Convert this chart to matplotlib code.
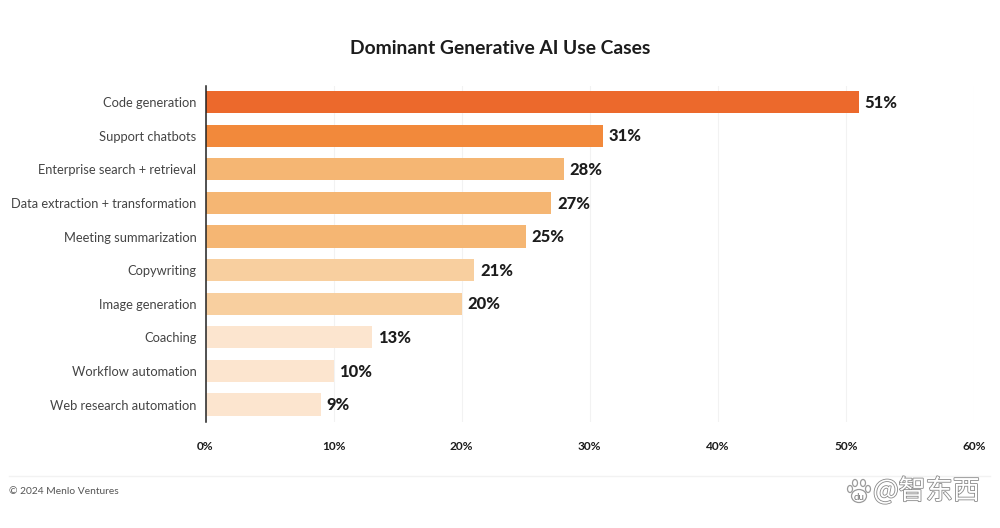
import matplotlib
matplotlib.use('Agg')
import matplotlib.pyplot as plt
import matplotlib.patheffects as pe
from matplotlib.patches import Ellipse

categorias = ['Code generation', 'Support chatbots', 'Enterprise search + retrieval',
              'Data extraction + transformation', 'Meeting summarization', 'Copywriting',
              'Image generation', 'Coaching', 'Workflow automation', 'Web research automation']
valores = [51, 31, 28, 27, 25, 21, 20, 13, 10, 9]
cores = ['#EC692C', '#F2893B', '#F5B673', '#F5B673', '#F5B673', '#F8CF9F', '#F8CF9F',
         '#FCE5CF', '#FCE5CF', '#FCE5CF']
marcas = [0, 10, 20, 30, 40, 50, 60]

plt.rcParams['font.family'] = ['Lato', 'DejaVu Sans']

L, A = 1000, 528
fig = plt.figure(figsize=(L / 100, A / 100), dpi=100)
ax = fig.add_axes([205.5 / L, 1 - 422 / A, (974 - 205.5) / L, (422 - 86) / A])

ax.barh(range(len(valores)), valores, height=0.66, color=cores, zorder=2)
ax.set_xlim(0, 60)
ax.set_ylim(9.52, -0.48)

for i, v in enumerate(valores):
    ax.text(v + 0.44, i + 0.02, f'{v}%', va='center', ha='left', fontsize=11.9,
            fontweight='black', color='#1c1c1c')

ax.set_yticks(range(len(categorias)))
ax.set_yticklabels(categorias, fontsize=9.25, color='#444444')
ax.set_xticks(marcas)
ax.set_xticklabels([f'{m}%' for m in marcas], fontsize=8.6, fontweight='bold', color='#1c1c1c')
ax.tick_params(axis='y', length=0, pad=6.5)
ax.tick_params(axis='x', length=0, pad=14)
ax.grid(axis='x', color='#f2f2f2', linewidth=0.8, zorder=0)
for lado in ['top', 'right', 'bottom']:
    ax.spines[lado].set_visible(False)
ax.spines['left'].set_color('#222222')
ax.spines['left'].set_linewidth(1.1)
ax.spines['left'].set_zorder(3)

fig.text(0.5, 1 - 48 / A, 'Dominant Generative AI Use Cases', ha='center', va='center',
         fontsize=13.9, fontweight='bold', color='#1c1c1c')

fig.add_artist(plt.Line2D([9 / L, 990 / L], [1 - 475.5 / A] * 2, color='#f2f2f2', linewidth=1))
fig.text(9 / L, 1 - 491.5 / A, '© 2024 Menlo Ventures', ha='left', va='center',
         fontsize=7.35, color='#555555')

# marca d'agua
contorno = [pe.withStroke(linewidth=1.2, foreground='#8a8a8a')]
fig.text(873 / L, 1 - 491 / A, '@智东西', ha='left', va='center', fontsize=19.5, color='white',
         family=['Noto Sans CJK SC', 'DejaVu Sans'], path_effects=contorno)
for cx, cy, w, h in [(850, 489, 5, 7), (855, 483, 5, 7), (863, 483, 5, 7), (868, 489, 5, 7),
                     (859, 496, 15, 13)]:
    fig.add_artist(Ellipse((cx / L, 1 - cy / A), w / L, h / A, transform=fig.transFigure,
                           facecolor='white', edgecolor='#9a9a9a', linewidth=0.9))
fig.text(859 / L, 1 - 497 / A, 'du', ha='center', va='center', fontsize=7, color='#777777')

fig.savefig('out.png', dpi=100)
